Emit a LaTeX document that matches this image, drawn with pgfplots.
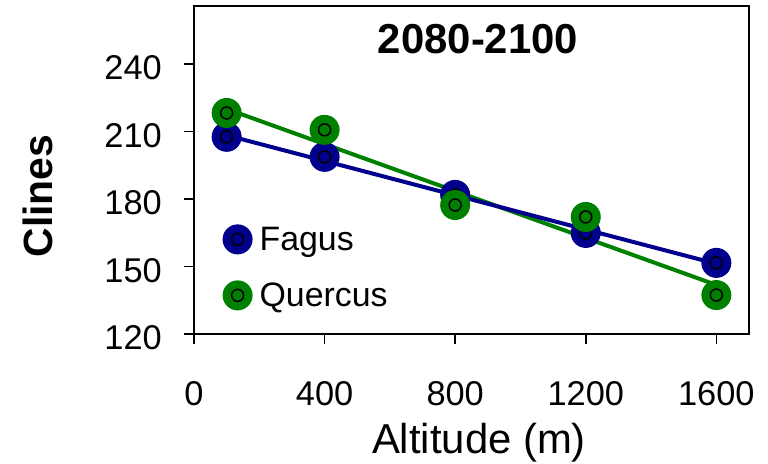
\documentclass[border=0pt]{standalone}
\usepackage{fontspec}
\setmainfont{Liberation Sans}
\usepackage{pgfplots}
\pgfplotsset{compat=1.18}
\definecolor{fagus}{RGB}{0,0,140}
\definecolor{quercus}{RGB}{0,128,0}
\pgfdeclareplotmark{dbl}{%
  \pgfpathcircle{\pgfpointorigin}{15bp}\pgfusepathqfill
  \pgfsetstrokecolor{black}\pgfsetlinewidth{1.5bp}%
  \pgfpathcircle{\pgfpointorigin}{6bp}\pgfusepathqstroke}
\begin{document}
\begin{tikzpicture}
\begin{axis}[
  scale only axis, width=555bp, height=327.5bp,
  xmin=0, xmax=1700, ymin=120, ymax=265.5,
  xtick={0,400,800,1200,1600}, ytick={120,150,180,210,240},
  axis line style={line width=2bp},
  tick align=outside, major tick length=10bp,
  tick style={line width=1.5bp, black},
  xtick pos=bottom, ytick pos=left,
  /pgf/number format/assume math mode=true,
  /pgf/number format/1000 sep={},
  tick label style={font=\fontsize{34.5}{40}\selectfont, inner sep=0pt},
  xticklabel style={anchor=base, yshift=-61bp},
  yticklabel style={anchor=east, xshift=-22bp, yshift=-4bp},
  clip=false,
  legend style={draw=none, fill=none, font=\fontsize{34}{40}\selectfont,
    at={(axis cs:87,149.6)}, anchor=west, row sep=26bp,
    inner sep=0pt, /tikz/every odd column/.append style={column sep=5bp}},
  legend cell align=left,
]
\addplot[only marks, mark=dbl, mark options={fill=fagus}, draw=fagus] coordinates {
 (100,207.6) (400,198.7) (800,181.8) (1200,164.9) (1600,151.6)};
\addlegendentry{Fagus}
\addplot[only marks, mark=dbl, mark options={fill=quercus}, draw=quercus] coordinates {
 (100,218.2) (400,210.7) (800,177.3) (1200,172.0) (1600,137.3)};
\addlegendentry{Quercus}
\addplot[quercus, line width=4bp, forget plot] coordinates {(100,220.0) (1600,141.8)};
\addplot[fagus, line width=4bp, forget plot] coordinates {(100,208.3) (1600,151.2)};
\node[font=\bfseries\fontsize{42}{48}\selectfont, inner sep=0pt] at (axis cs:870,251) {2080-2100};
\node[font=\bfseries\fontsize{41}{48}\selectfont, inner sep=0pt, rotate=90] at (axis cs:-478,181.3) {Clines};
\node[font=\fontsize{42}{48}\selectfont, inner sep=0pt, anchor=base] at (axis cs:873,67.1) {Altitude (m)};
\end{axis}
\pgfresetboundingbox
\useasboundingbox (current axis.south west) ++(-194bp,-130bp) rectangle ++(768bp,464bp);
\end{tikzpicture}
\end{document}
